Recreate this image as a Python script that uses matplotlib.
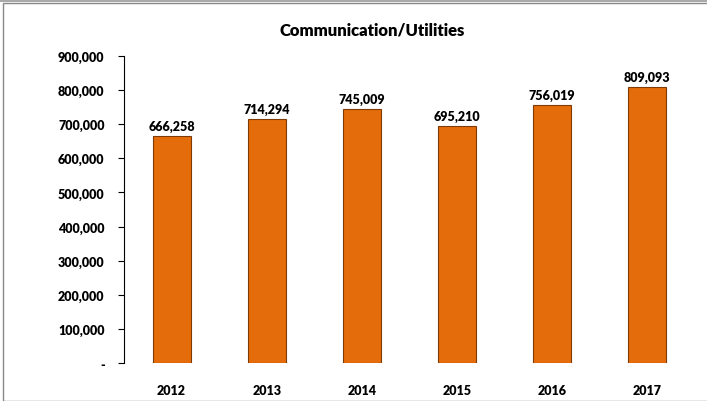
import matplotlib.pyplot as plt
from matplotlib.ticker import FuncFormatter
from matplotlib.patches import Rectangle

years = ['2012', '2013', '2014', '2015', '2016', '2017']
values = [666258, 714294, 745009, 695210, 756019, 809093]

plt.rcParams['font.family'] = ['Lato', 'DejaVu Sans']

fig = plt.figure(figsize=(7.07, 4.02), dpi=100)
ax = fig.add_axes([124/707, 1 - 364/402, 571/707, (364 - 57)/402])

bars = ax.bar(range(len(years)), values, width=0.4, color='#E46C0A',
              edgecolor='#7F3A06', linewidth=0.8)
for i, v in enumerate(values):
    ax.text(i, v + 12000, '{:,}'.format(v), ha='center', va='bottom',
            fontsize=9, fontweight='heavy')

ax.set_xlim(-0.5, 5.5)
ax.set_ylim(0, 900000)
ax.set_yticks(range(0, 900001, 100000))
ax.yaxis.set_major_formatter(FuncFormatter(lambda y, p: '-' if y == 0 else '{:,.0f}'.format(y)))
ax.set_xticks(range(len(years)))
ax.set_xticklabels(years)
for lbl in ax.get_xticklabels() + ax.get_yticklabels():
    lbl.set_fontweight('heavy')
    lbl.set_fontsize(9)
ax.tick_params(axis='x', length=0, pad=15)
ax.tick_params(axis='y', length=4, direction='out', pad=10)
for s in ['top', 'right', 'bottom']:
    ax.spines[s].set_visible(False)
ax.spines['left'].set_linewidth(0.8)

fig.text(372/707, 1 - 30/402, 'Communication/Utilities', fontsize=12, fontweight='heavy',
         ha='center', va='center')

fig.patches.append(Rectangle((3/707, 0), 1, 1 - 4/402, transform=fig.transFigure,
                             fill=False, edgecolor='#888888', linewidth=1))
fig.patches.append(Rectangle((0, 1 - 3/402), 1, 3/402, transform=fig.transFigure,
                             fill=True, facecolor='#aaaaaa', edgecolor='none'))

fig.savefig('out.png', dpi=100)
